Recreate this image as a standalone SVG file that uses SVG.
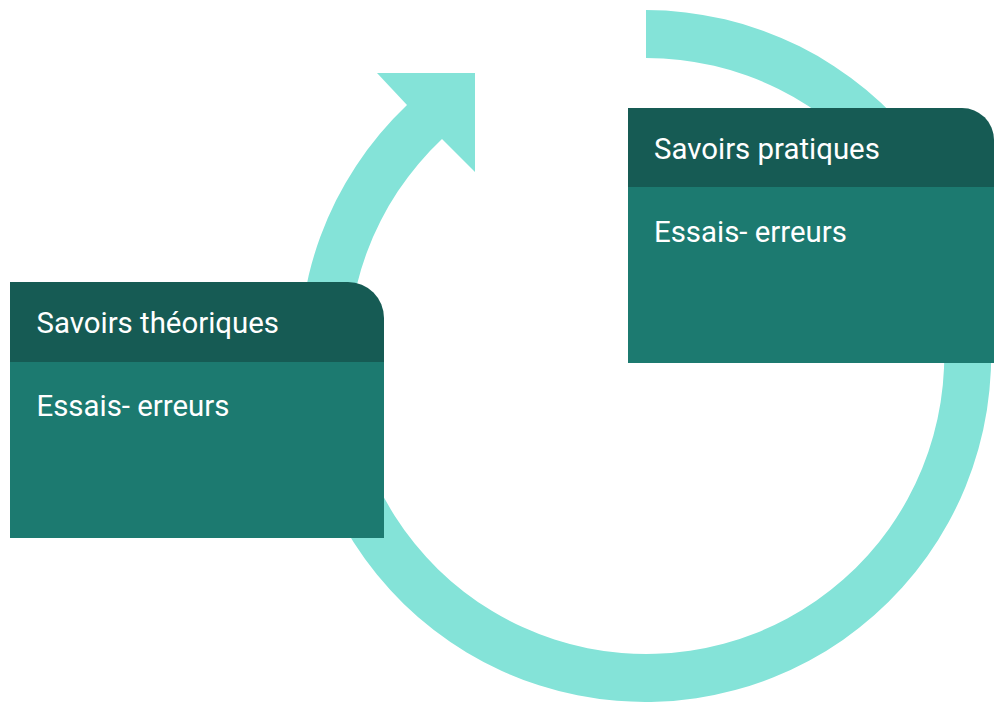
<svg xmlns="http://www.w3.org/2000/svg" width="994" height="702" viewBox="0 0 994 702">
<style>
.ring{fill:#84E3D8;}
.head{fill:#165B54;}
.body{fill:#1C7A70;}
.t{font-family:Roboto,"Liberation Sans",sans-serif;font-size:29.4px;fill:#FFFFFF;}
</style>
<rect width="994" height="702" fill="#FFFFFF"/>
<g id="connectors">
<path class="ring" d="M646,10 A346,346 0 1 1 407,105 L377,73 L475,73 L475,172 L442,139 A298,298 0 1 0 646,58 Z"/>
</g>
<g id="node-theoriques">
<path class="head" d="M10,282 H348 A36,36 0 0 1 384,318 V362 H10 Z"/>
<rect class="body" x="10" y="362" width="374" height="176"/>
<text class="t" x="36.5" y="333">Savoirs théoriques</text>
<text class="t" x="36.5" y="416">Essais- erreurs</text>
</g>
<g id="node-pratiques">
<path class="head" d="M628,108 H962 A32,32 0 0 1 994,140 V187 H628 Z"/>
<rect class="body" x="628" y="187" width="366" height="176"/>
<text class="t" x="654" y="159">Savoirs pratiques</text>
<text class="t" x="654" y="242">Essais- erreurs</text>
</g>
</svg>
